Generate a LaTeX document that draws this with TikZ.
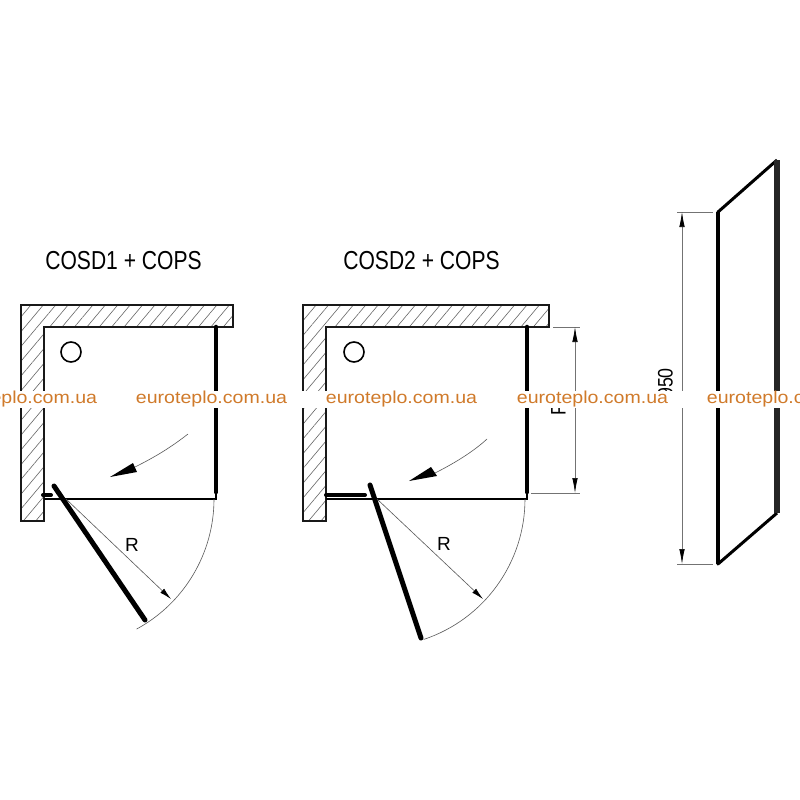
\documentclass[tikz,border=0pt]{standalone}
\usepackage{fontspec}
\setmainfont{Liberation Sans}
\usetikzlibrary{patterns.meta,arrows.meta}
\definecolor{wmark}{RGB}{208,122,42}
\tikzset{
	wall/.style = {draw = black!90, line width = 2pt, pattern = {Lines[angle=50,distance=9.5pt,line width=.6pt]}, pattern color = black!60},
	glass/.style = {line width = 4.6pt, line cap = round, color = black},
	hairline/.style = {line width = .6pt, color = black!65},
	dimline/.style = {line width = .7pt, color = black!55},
	dimhead/.style = {{Latex[length=15pt,width=5.5pt,black]}-{Latex[length=15pt,width=5.5pt,black]}},
	sitemark/.style = {font = \fontsize{17.3}{17.3}\selectfont, text = wmark, xscale = 1.13, inner sep = 0pt, anchor = base},
	heading/.style = {font = \fontsize{26}{26}\selectfont, text = black, xscale = .81, inner sep = 0pt},
	dimtext/.style = {font = \fontsize{19}{19}\selectfont, text = black, inner sep = 0pt},
	sizetext/.style = {font = \fontsize{21}{21}\selectfont, text = black, inner sep = 0pt, rotate = 90, xscale = .85}
}
\begin{document}
\begin{tikzpicture}[x=1pt,y=-1pt]
	\useasboundingbox (0,0) rectangle (800,800);
	\fill[white] (0,0) rectangle (800,800);
	\node[heading] (titleA) at (123.5,261) {COSD1 + COPS};
	\node[heading] (titleB) at (421.5,261) {COSD2 + COPS};
	\draw[wall] (21,305) -- (233,305) -- (233,327) -- (44,327) -- (44,521) -- (21,521) -- cycle;
	\draw[line width = 1.6pt] (71,352) circle (10pt);
	\draw[glass] (216,327) -- (216,492);
	\draw[line width = 1.8pt] (44,499) -- (216,499) -- (216,493);
	\draw[glass, line width = 4pt] (43,495) -- (51,495);
	\draw[glass, line width = 5pt] (54,486) -- (145,620);
	\draw[hairline] (214,499) arc[start angle = 0, end angle = -61.5, radius = 148pt];
	\draw[hairline] (188,434) .. controls (170,448) and (155,457) .. (135,467);
	\fill (110,477) -- (133,463) -- (137,472) -- cycle;
	\draw[hairline, -{Latex[length=12pt,width=5.5pt,black]}] (66,499) -- (171,599);
	\node[dimtext] (radA) at (132,545) {R};
	\draw[wall] (303,305) -- (549,305) -- (549,327) -- (326,327) -- (326,521) -- (303,521) -- cycle;
	\draw[line width = 1.6pt] (354,352) circle (10pt);
	\draw[glass] (527,327) -- (527,492);
	\draw[line width = 1.8pt] (326,499) -- (527,499) -- (527,493);
	\draw[glass, line width = 4pt] (326,495) -- (365,495);
	\draw[glass, line width = 5pt] (370,485) -- (421,638);
	\draw[hairline] (525,499) arc[start angle = 0, end angle = -71.6, radius = 148pt];
	\draw[hairline] (487,439) .. controls (473,452) and (453,464) .. (435,473);
	\fill (409,481) -- (431,467) -- (437,476) -- cycle;
	\draw[hairline, -{Latex[length=12pt,width=5.5pt,black]}] (377,499) -- (483,599);
	\node[dimtext] (radB) at (444,544) {R};
	\draw[dimline] (553,327) -- (580,327);
	\draw[dimline] (531,493) -- (580,493);
	\draw[dimline, dimhead] (575,327) -- (575,493);
	\node[sizetext] (sizeP) at (558.5,409.5) {P};
	\draw[line width = 3pt, line join = round] (777,160) -- (718,212) -- (718,564) -- (777,513);
	\draw[line width = 3.6pt] (718,212) -- (718,564);
	\draw[line width = 5.5pt, black!85] (777,160) -- (777,513);
	\draw[dimline] (677,212) -- (713,212);
	\draw[dimline] (677,564) -- (713,564);
	\draw[dimline, dimhead] (682,212) -- (682,564);
	\node[sizetext] (sizeH) at (665.5,383) {950};
	\fill[white] (0,391) rectangle (800,408);
	\node[sitemark] (markA) at (21.5,403.5) {euroteplo.com.ua};
	\node[sitemark] (markB) at (211.5,403.5) {euroteplo.com.ua};
	\node[sitemark] (markC) at (401.5,403.5) {euroteplo.com.ua};
	\node[sitemark] (markD) at (592.5,403.5) {euroteplo.com.ua};
	\node[sitemark] (markE) at (782.5,403.5) {euroteplo.com.ua};
\end{tikzpicture}
\end{document}
